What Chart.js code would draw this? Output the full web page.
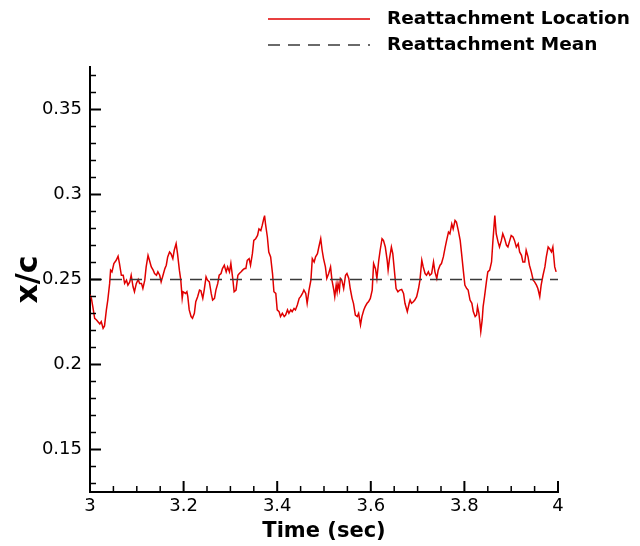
<!DOCTYPE html>
<html>
<head>
<meta charset="utf-8">
<script src="https://cdn.jsdelivr.net/npm/chart.js@4"></script>
<style>
  body { margin: 0; background: #fff; }
  #wrap { width: 640px; height: 546px; }
</style>
</head>
<body>
<div id="wrap"><canvas id="my-chart" width="640" height="546"></canvas></div>
<script>
'use strict';

// DATA
let timeValues = [
  3.000, 3.003, 3.006, 3.010, 3.014, 3.017, 3.021, 3.024, 3.028, 3.031, 3.035, 3.038, 3.042, 3.044, 3.047,
  3.051, 3.056, 3.060, 3.063, 3.067, 3.071, 3.074, 3.078, 3.081, 3.085, 3.088, 3.092, 3.095, 3.099, 3.103,
  3.106, 3.110, 3.113, 3.117, 3.120, 3.124, 3.127, 3.131, 3.135, 3.138, 3.142, 3.145, 3.149, 3.152, 3.156,
  3.160, 3.163, 3.166, 3.170, 3.173, 3.177, 3.180, 3.184, 3.187, 3.191, 3.194, 3.197, 3.199, 3.204, 3.207,
  3.209, 3.212, 3.216, 3.219, 3.223, 3.226, 3.230, 3.234, 3.237, 3.241, 3.244, 3.248, 3.251, 3.255, 3.259,
  3.262, 3.266, 3.269, 3.273, 3.276, 3.280, 3.283, 3.287, 3.291, 3.294, 3.298, 3.301, 3.305, 3.308, 3.312,
  3.316, 3.319, 3.323, 3.326, 3.330, 3.333, 3.336, 3.340, 3.343, 3.347, 3.350, 3.354, 3.358, 3.361, 3.365,
  3.368, 3.372, 3.373, 3.375, 3.379, 3.382, 3.386, 3.390, 3.393, 3.397, 3.400, 3.404, 3.407, 3.411, 3.415,
  3.418, 3.422, 3.425, 3.429, 3.432, 3.436, 3.439, 3.443, 3.447, 3.450, 3.454, 3.457, 3.461, 3.464, 3.468,
  3.472, 3.475, 3.479, 3.482, 3.486, 3.489, 3.493, 3.496, 3.499, 3.503, 3.506, 3.510, 3.514, 3.517, 3.521,
  3.523, 3.526, 3.528, 3.530, 3.533, 3.535, 3.538, 3.542, 3.546, 3.549, 3.553, 3.556, 3.560, 3.563, 3.567,
  3.571, 3.574, 3.578, 3.581, 3.585, 3.588, 3.592, 3.595, 3.599, 3.603, 3.606, 3.610, 3.613, 3.617, 3.620,
  3.624, 3.627, 3.631, 3.635, 3.637, 3.640, 3.644, 3.647, 3.651, 3.654, 3.658, 3.662, 3.666, 3.670, 3.673,
  3.678, 3.682, 3.684, 3.687, 3.691, 3.694, 3.698, 3.702, 3.705, 3.709, 3.712, 3.716, 3.719, 3.723, 3.726,
  3.730, 3.734, 3.737, 3.741, 3.744, 3.748, 3.751, 3.755, 3.759, 3.762, 3.766, 3.769, 3.773, 3.776, 3.780,
  3.783, 3.787, 3.791, 3.794, 3.798, 3.801, 3.805, 3.808, 3.812, 3.816, 3.819, 3.823, 3.826, 3.828, 3.831,
  3.833, 3.835, 3.838, 3.840, 3.843, 3.847, 3.850, 3.854, 3.858, 3.861, 3.865, 3.868, 3.872, 3.875, 3.879,
  3.882, 3.886, 3.890, 3.893, 3.897, 3.900, 3.904, 3.907, 3.911, 3.915, 3.918, 3.922, 3.925, 3.929, 3.932,
  3.936, 3.939, 3.943, 3.947, 3.950, 3.954, 3.957, 3.961, 3.964, 3.968, 3.972, 3.975, 3.979, 3.982, 3.986,
  3.989, 3.993, 3.996
];

let reattachLocation = [
  0.2410, 0.2389, 0.2340, 0.2272, 0.2262, 0.2252, 0.2239, 0.2252, 0.2213, 0.2227, 0.2321, 0.2379, 0.2477, 0.2555, 0.2545,
  0.2594, 0.2613, 0.2637, 0.2594, 0.2525, 0.2525, 0.2477, 0.2496, 0.2467, 0.2486, 0.2525, 0.2457, 0.2428, 0.2477, 0.2500,
  0.2477, 0.2477, 0.2447, 0.2496, 0.2574, 0.2642, 0.2613, 0.2574, 0.2555, 0.2535, 0.2525, 0.2545, 0.2525, 0.2486, 0.2525,
  0.2564, 0.2584, 0.2633, 0.2662, 0.2652, 0.2623, 0.2672, 0.2711, 0.2652, 0.2555, 0.2496, 0.2389, 0.2428, 0.2418, 0.2428,
  0.2399, 0.2321, 0.2282, 0.2272, 0.2301, 0.2369, 0.2399, 0.2438, 0.2434, 0.2389, 0.2438, 0.2516, 0.2496, 0.2486, 0.2418,
  0.2379, 0.2389, 0.2438, 0.2477, 0.2525, 0.2535, 0.2564, 0.2584, 0.2545, 0.2574, 0.2545, 0.2594, 0.2506, 0.2428, 0.2438,
  0.2525, 0.2535, 0.2545, 0.2555, 0.2564, 0.2564, 0.2613, 0.2623, 0.2584, 0.2652, 0.2730, 0.2740, 0.2759, 0.2798, 0.2788,
  0.2818, 0.2866, 0.2876, 0.2827, 0.2750, 0.2662, 0.2633, 0.2535, 0.2428, 0.2418, 0.2321, 0.2311, 0.2282, 0.2301, 0.2282,
  0.2291, 0.2321, 0.2301, 0.2321, 0.2311, 0.2330, 0.2321, 0.2350, 0.2389, 0.2399, 0.2418, 0.2438, 0.2418, 0.2360, 0.2438,
  0.2496, 0.2623, 0.2603, 0.2633, 0.2652, 0.2691, 0.2740, 0.2672, 0.2623, 0.2574, 0.2506, 0.2535, 0.2574, 0.2496, 0.2438,
  0.2399, 0.2467, 0.2428, 0.2477, 0.2438, 0.2506, 0.2496, 0.2447, 0.2525, 0.2535, 0.2506, 0.2447, 0.2389, 0.2360, 0.2291,
  0.2282, 0.2301, 0.2233, 0.2282, 0.2321, 0.2340, 0.2360, 0.2369, 0.2389, 0.2438, 0.2594, 0.2564, 0.2506, 0.2613, 0.2672,
  0.2740, 0.2730, 0.2691, 0.2613, 0.2555, 0.2623, 0.2691, 0.2652, 0.2535, 0.2447, 0.2428, 0.2438, 0.2442, 0.2418, 0.2360,
  0.2311, 0.2360, 0.2379, 0.2360, 0.2369, 0.2379, 0.2399, 0.2447, 0.2496, 0.2613, 0.2574, 0.2535, 0.2525, 0.2545, 0.2525,
  0.2535, 0.2603, 0.2545, 0.2506, 0.2555, 0.2584, 0.2594, 0.2633, 0.2691, 0.2730, 0.2779, 0.2769, 0.2827, 0.2798, 0.2847,
  0.2837, 0.2788, 0.2730, 0.2652, 0.2545, 0.2467, 0.2447, 0.2438, 0.2379, 0.2360, 0.2311, 0.2282, 0.2291, 0.2340, 0.2301,
  0.2250, 0.2194, 0.2262, 0.2340, 0.2399, 0.2486, 0.2545, 0.2555, 0.2603, 0.2730, 0.2876, 0.2769, 0.2720, 0.2691, 0.2730,
  0.2769, 0.2740, 0.2701, 0.2691, 0.2730, 0.2759, 0.2750, 0.2730, 0.2691, 0.2711, 0.2662, 0.2642, 0.2603, 0.2603, 0.2672,
  0.2633, 0.2584, 0.2545, 0.2496, 0.2486, 0.2467, 0.2447, 0.2399, 0.2467, 0.2525, 0.2574, 0.2633, 0.2691, 0.2681, 0.2662,
  0.2691, 0.2574, 0.2545
];

let meanTimes = [3, 4];
let meanValues = [0.25, 0.25];

let xTickLabels = ['3', '3.2', '3.4', '3.6', '3.8', '4'];
let yTickLabels = ['0.15', '0.2', '0.25', '0.3', '0.35'];

let seriesNames = ['Reattachment Location', 'Reattachment Mean'];

// DOM
let ctx = document.getElementById('my-chart');

// HELPERS
function toPoints(xs, ys) {
  let pts = [];
  for (let i = 0; i < xs.length; i++) {
    pts.push({ x: xs[i], y: ys[i] });
  }
  return pts;
}

function pickLabel(list, value) {
  let found = list.find(l => Math.abs(parseFloat(l) - value) < 1e-6);
  return found ? found : '';
}

// minor ticks every 0.01 between 0.13 and 0.37
function yMinorTicks(scale) {
  scale.ticks = [];
  for (let k = 13; k <= 37; k++) {
    scale.ticks.push({ value: k / 100 });
  }
}

// inward tick marks, long where there is a label
let insideTicks = {
  id: 'insideTicks',
  afterDatasetsDraw(chart) {
    let c = chart.ctx;
    let area = chart.chartArea;
    let xs = chart.scales.x;
    let ys = chart.scales.y;
    c.save();
    c.strokeStyle = '#000';
    xs.ticks.forEach(t => {
      let px = xs.getPixelForValue(t.value);
      let len = t.label ? 11 : 6;
      c.lineWidth = t.label ? 2 : 1.5;
      c.beginPath();
      c.moveTo(px, area.bottom);
      c.lineTo(px, area.bottom - len);
      c.stroke();
    });
    ys.ticks.forEach(t => {
      let py = ys.getPixelForValue(t.value);
      let len = t.label ? 11 : 6;
      c.lineWidth = t.label ? 2 : 1.5;
      c.beginPath();
      c.moveTo(area.left, py);
      c.lineTo(area.left + len, py);
      c.stroke();
    });
    c.restore();
  }
};

// legend in the top right corner, two rows
let cornerLegend = {
  id: 'cornerLegend',
  afterDraw(chart) {
    let c = chart.ctx;
    let rows = [19, 45];
    c.save();
    chart.data.datasets.forEach((ds, i) => {
      c.strokeStyle = ds.borderColor;
      c.lineWidth = ds.borderWidth;
      c.setLineDash(ds.borderDash || []);
      c.beginPath();
      c.moveTo(268, rows[i]);
      c.lineTo(370, rows[i]);
      c.stroke();
      c.setLineDash([]);
      c.fillStyle = '#000';
      c.font = 'bold 18.5px "DejaVu Sans"';
      c.textBaseline = 'middle';
      c.textAlign = 'left';
      c.fillText(ds.label, 387, rows[i]);
    });
    c.restore();
  }
};

// CHART
Chart.defaults.font.family = '"DejaVu Sans", sans-serif';
Chart.defaults.color = '#000';

let chartObj = {
  type: 'line',
  data: {
    datasets: [{
      label: seriesNames[0],
      data: toPoints(timeValues, reattachLocation),
      borderColor: '#e00000',
      borderWidth: 1.5,
      pointRadius: 0,
      tension: 0,
      order: 2
    },
    {
      label: seriesNames[1],
      data: toPoints(meanTimes, meanValues),
      borderColor: '#3a3a3a',
      borderWidth: 1.5,
      borderDash: [12, 8],
      pointRadius: 0,
      tension: 0,
      order: 1
    }]
  },
  options: {
    responsive: false,
    animation: false,
    devicePixelRatio: 1,
    layout: {
      padding: { top: 67, right: 82, left: 0, bottom: 0 }
    },
    plugins: {
      legend: { display: false },
      tooltip: { enabled: false }
    },
    scales: {
      x: {
        type: 'linear',
        min: 3,
        max: 4,
        grid: { display: false, drawTicks: false },
        border: { display: true, color: '#000', width: 2 },
        ticks: {
          stepSize: 0.05,
          autoSkip: false,
          maxRotation: 0,
          padding: 4,
          font: { size: 18 },
          callback: (value) => pickLabel(xTickLabels, value)
        },
        title: {
          display: true,
          text: 'Time (sec)',
          font: { size: 21, weight: 'bold' },
          padding: { top: 0, bottom: 2 }
        },
        afterFit: (scale) => { scale.height = 54; }
      },
      y: {
        type: 'linear',
        min: 0.125,
        max: 0.375,
        grid: { display: false, drawTicks: false },
        border: { display: true, color: '#000', width: 2 },
        afterBuildTicks: yMinorTicks,
        ticks: {
          autoSkip: false,
          padding: 8,
          font: { size: 18 },
          callback: (value) => pickLabel(yTickLabels, value)
        },
        title: {
          display: true,
          text: 'x/c',
          font: { size: 30, weight: 'bold' },
          padding: { top: 11, bottom: 0 }
        },
        afterFit: (scale) => { scale.width = 90; }
      }
    }
  },
  plugins: [insideTicks, cornerLegend]
};

new Chart(ctx, chartObj);
</script>
</body>
</html>
